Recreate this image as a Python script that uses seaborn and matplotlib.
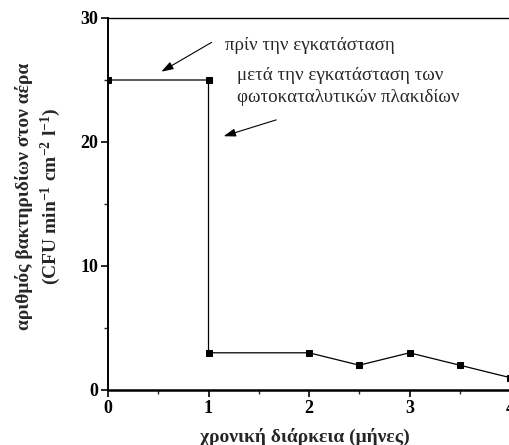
import matplotlib
matplotlib.use("Agg")
import matplotlib.pyplot as plt
import seaborn as sns
import pandas as pd
from matplotlib.ticker import MultipleLocator

months = [0, 1, 1, 2, 2.5, 3, 3.5, 4]
cfu = [25, 25, 3, 3, 2, 3, 2, 1]
x_ticks = [0, 1, 2, 3, 4]
y_ticks = [0, 10, 20, 30]
note_before = "πρίν την εγκατάσταση"
note_after = "μετά την εγκατάσταση των\nφωτοκαταλυτικών πλακιδίων"
xlabel = "χρονική διάρκεια (μήνες)"
ylabel = "αριθμός βακτηριδίων στον αέρα\n(CFU min$^{-1}$ cm$^{-2}$ l$^{-1}$)"

sns.set_theme(style="white")
plt.rcParams['font.family'] = ['Liberation Serif', 'DejaVu Serif']
plt.rcParams['mathtext.fontset'] = 'custom'
plt.rcParams['mathtext.rm'] = 'Liberation Serif:bold'
plt.rcParams['mathtext.it'] = 'Liberation Serif:bold'
plt.rcParams['mathtext.bf'] = 'Liberation Serif:bold'
plt.rcParams['mathtext.default'] = 'rm'

df = pd.DataFrame({"months": months, "cfu": cfu})

fig = plt.figure(figsize=(5.1, 4.45), dpi=100)
XMAX = 4.3
ax = fig.add_axes([108/510, 55/445, XMAX*100.5/510, 372/445])

sns.lineplot(data=df, x="months", y="cfu", ax=ax, sort=False, estimator=None,
             color="black", linewidth=0.9, marker="s", markersize=4.6,
             markeredgecolor="black", markerfacecolor="black")

ax.set_xlim(0, XMAX)
ax.set_ylim(0, 30)
ax.set_xticks(x_ticks)
ax.set_yticks(y_ticks)
ax.xaxis.set_minor_locator(MultipleLocator(0.5))
ax.yaxis.set_minor_locator(MultipleLocator(5))
ax.tick_params(which='major', direction='out', length=5, width=1.2,
               labelsize=13, pad=2, left=True, bottom=True, colors='black')
ax.tick_params(which='minor', direction='out', length=3, width=1.0,
               left=True, bottom=True)
for lab in ax.get_xticklabels() + ax.get_yticklabels():
    lab.set_fontweight('bold')

for side in ['left', 'bottom', 'top']:
    ax.spines[side].set_visible(True)
    ax.spines[side].set_color('black')
ax.spines['right'].set_visible(False)
ax.spines['left'].set_linewidth(1.4)
ax.spines['bottom'].set_linewidth(1.8)
ax.spines['top'].set_linewidth(1.0)
ax.grid(False)

ax.set_xlabel(xlabel, fontsize=14, fontweight='bold')
ax.xaxis.set_label_coords(1.96/XMAX, -0.102)
ax.set_ylabel(ylabel, fontsize=14, fontweight='bold', linespacing=1.35)
ax.yaxis.set_label_coords(-0.103, 0.52)

ax.text(1.164, 27.8, note_before, fontsize=13.7, ha='left', va='center')
ax.text(1.284, 24.5, note_after, fontsize=13.7, ha='left', va='center', linespacing=1.4)
arrow = dict(arrowstyle='-|>,head_length=0.6,head_width=0.2', color='black', lw=0.8)
ax.annotate('', xy=(0.507, 25.56), xytext=(1.055, 28.15), arrowprops=arrow)
ax.annotate('', xy=(1.124, 20.4), xytext=(1.70, 21.85), arrowprops=arrow)

fig.savefig("out.png", dpi=100)
